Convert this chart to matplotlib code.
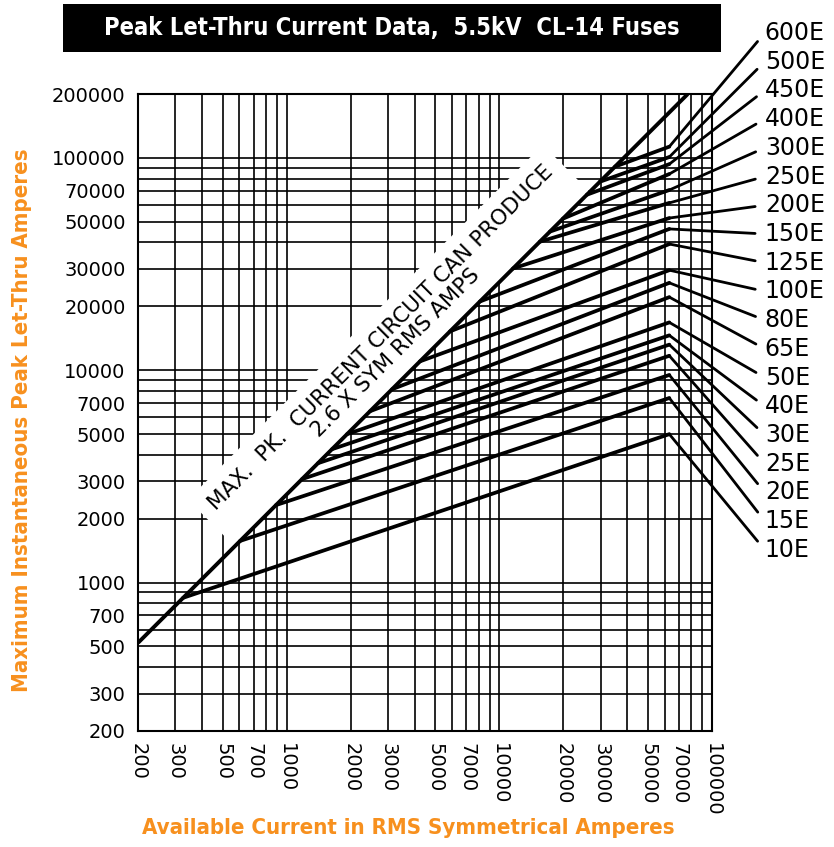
"""Peak let-thru current chart for 5.5kV CL-14 fuses."""

import numpy as np
import matplotlib
matplotlib.use('Agg')
import matplotlib.pyplot as plt
from matplotlib.patches import Rectangle
from matplotlib.ticker import FixedLocator, LogLocator, NullFormatter

ORANGE = '#F7901E'

# fuse ratings, current where each curve leaves the 2.6 x line, peak at max current
fuse_ratings = ['10E', '15E', '20E', '25E', '30E', '40E', '50E', '65E', '80E', '100E',
                '125E', '150E', '200E', '250E', '300E', '400E', '450E', '500E', '600E']
start_current = [326, 604, 891, 1181, 1403, 1633, 1922, 2466, 3130, 4235,
                 5860, 8110, 11600, 15500, 17300, 19900, 25800, 29700, 35000]
peak_current = [5000, 7400, 9500, 11700, 13200, 14600, 16800, 22100, 25800, 29600,
                39300, 46300, 52100, 61400, 70600, 84000, 93500, 101000, 113000]
max_current = 63000
peak_factor = 2.6

tick_values = [200, 300, 500, 700, 1000, 2000, 3000, 5000, 7000, 10000,
               20000, 30000, 50000, 70000, 100000]
y_tick_values = [200, 300, 500, 700, 1000, 2000, 3000, 5000, 7000, 10000,
                 20000, 30000, 50000, 70000, 100000, 200000]

fig = plt.figure(figsize=(8.34, 8.47), dpi=100)
ax = fig.add_axes([0.1655, 0.137, 0.6882, 0.752])
ax.set_xscale('log')
ax.set_yscale('log')
ax.set_xlim(200, 100000)
ax.set_ylim(200, 200000)

for axis, ticks in ((ax.xaxis, tick_values), (ax.yaxis, y_tick_values)):
    axis.set_major_locator(FixedLocator(ticks))
    axis.set_major_formatter(plt.FuncFormatter(lambda v, p: f'{v:.0f}'))
    axis.set_minor_locator(LogLocator(base=10, subs=np.arange(1, 10), numticks=50))
    axis.set_minor_formatter(NullFormatter())

ax.grid(True, which='both', color='black', lw=1.2)
ax.tick_params(which='both', length=0, labelsize=14, colors='black')
ax.tick_params(axis='y', pad=9)
ax.tick_params(axis='x', pad=9, labelrotation=270)
for spine in ax.spines.values():
    spine.set_linewidth(1.5)

# max peak line and its label band
diag_x = np.array([200, 200000 / peak_factor])
ax.plot(diag_x, peak_factor * diag_x, color='black', lw=2.8, zorder=5,
        solid_capstyle='butt')
ax.text(3010, 13100, 'MAX.  PK.  CURRENT CIRCUIT CAN PRODUCE\n2.6 X SYM RMS AMPS',
        rotation=45, ha='center', va='center', fontsize=15.5, linespacing=1.1,
        multialignment='center', zorder=4,
        bbox=dict(boxstyle='square,pad=0.55', fc='white', ec='none'))

# fuse curves and their leader lines
label_top = 1.096
label_step = 0.0451
for i, (name, start, peak) in enumerate(zip(fuse_ratings, start_current, peak_current)):
    ax.plot([start, max_current], [peak_factor * start, peak], color='black',
            lw=2.7, zorder=4.5, solid_capstyle='round')
    row = len(fuse_ratings) - 1 - i
    ax.annotate(name, xy=(max_current, peak), xycoords='data',
                xytext=(1.092, label_top - row * label_step), textcoords='axes fraction',
                ha='left', va='center', fontsize=17, annotation_clip=False,
                arrowprops=dict(arrowstyle='-', lw=2.0, color='black',
                                relpos=(0, 0.5), shrinkA=5, shrinkB=0))

# title box
fig.add_artist(Rectangle((0.0755, 0.9386), 0.789, 0.0567, transform=fig.transFigure,
                         facecolor='black', edgecolor='none'))
title = fig.text(0.470, 0.967, 'Peak Let-Thru Current Data,  5.5kV  CL-14 Fuses',
                 color='white', fontsize=20, fontweight='bold', fontstretch='condensed',
                 ha='center', va='center')
ylab = fig.text(0.026, 0.504, 'Maximum Instantaneous Peak Let-Thru Amperes',
                color=ORANGE, fontsize=18, fontweight='bold', fontstretch='condensed',
                rotation=90, ha='center', va='center')
xlab = fig.text(0.490, 0.0224, 'Available Current in RMS Symmetrical Amperes',
                color=ORANGE, fontsize=18, fontweight='bold', fontstretch='condensed',
                ha='center', va='center')

# scale the bold labels to the widths they take in the original
renderer = fig.canvas.get_renderer()
for txt, size_px, use_height in ((title, 575, False), (ylab, 545, True), (xlab, 535, False)):
    ext = txt.get_window_extent(renderer)
    current = ext.height if use_height else ext.width
    txt.set_fontsize(txt.get_fontsize() * size_px / current)

fig.savefig('out.png', dpi=100)
